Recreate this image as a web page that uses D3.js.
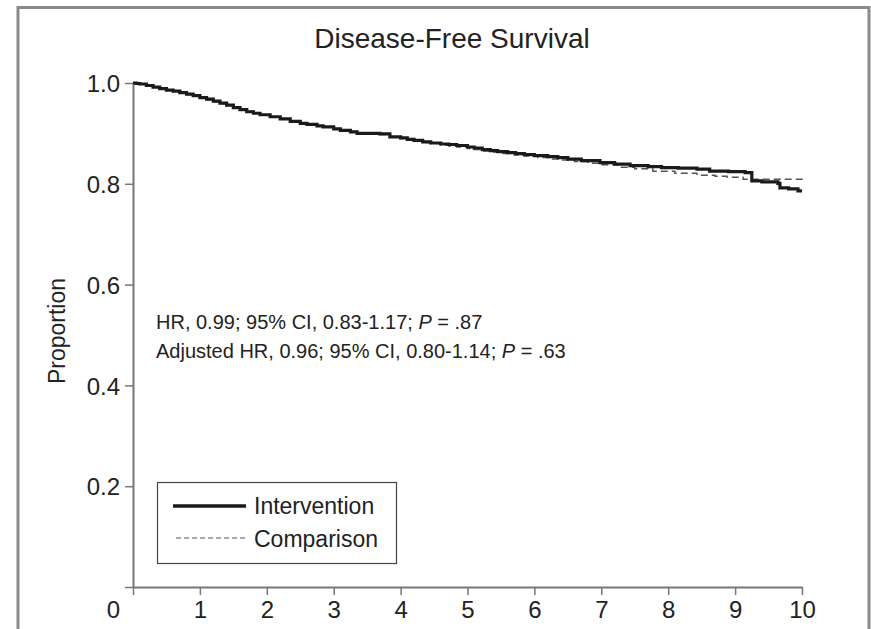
<!DOCTYPE html>
<html><head><meta charset="utf-8">
<script src="https://cdn.jsdelivr.net/npm/d3@7"></script>
<style>
body{margin:0;background:#fff;}
text{font-family:"Liberation Sans",Arial,sans-serif;fill:#222;}
</style></head>
<body>
<svg id="c" width="871" height="629"></svg>
<script>
const title = "Disease-Free Survival";
const yLabel = "Proportion";
const xTicks = [0,1,2,3,4,5,6,7,8,9,10];
const yTicks = [0,0.2,0.4,0.6,0.8,1.0];
const seriesNames = ["Intervention","Comparison"];
const interventionT = [0,0.05,0.1,0.2,0.3,0.4,0.5,0.6,0.7,0.8,0.9,1.0,1.1,1.2,1.3,1.4,1.5,1.6,1.7,1.8,1.9,2.05,2.2,2.35,2.5,2.6,2.75,2.84,3.0,3.1,3.25,3.35,3.69,3.84,4.0,4.1,4.2,4.33,4.45,4.6,4.72,4.84,5.0,5.1,5.22,5.34,5.45,5.6,5.72,5.85,6.0,6.2,6.35,6.5,6.7,6.98,7.2,7.43,7.7,7.9,8.15,8.43,8.62,8.9,9.15,9.25,9.4,9.64,9.67,9.8,9.94,10];
const interventionS = [1.0,0.999,0.998,0.995,0.992,0.989,0.986,0.984,0.981,0.978,0.975,0.971,0.968,0.964,0.960,0.956,0.951,0.947,0.943,0.940,0.937,0.933,0.929,0.924,0.920,0.918,0.915,0.913,0.909,0.906,0.903,0.900,0.899,0.893,0.891,0.888,0.886,0.883,0.881,0.879,0.878,0.876,0.873,0.871,0.868,0.866,0.864,0.862,0.860,0.858,0.856,0.854,0.852,0.849,0.846,0.842,0.839,0.836,0.834,0.832,0.831,0.829,0.825,0.824,0.822,0.806,0.804,0.801,0.792,0.790,0.786,0.786];
const comparisonT = [0,0.1,0.2,0.3,0.4,0.5,0.6,0.7,0.8,0.9,1.0,1.1,1.2,1.3,1.4,1.5,1.6,1.7,1.8,1.9,2.05,2.2,2.35,2.5,2.6,2.75,2.84,3.0,3.1,3.25,3.35,3.69,3.84,4.0,4.1,4.2,4.33,4.45,4.6,4.72,4.84,5.0,5.1,5.22,5.34,5.5,5.7,5.85,6.05,6.23,6.4,6.6,6.8,7.0,7.3,7.5,7.77,8.1,8.43,8.7,8.88,9.12,10,10];
const comparisonS = [1.0,0.998,0.995,0.992,0.989,0.986,0.983,0.980,0.977,0.974,0.970,0.967,0.963,0.959,0.955,0.952,0.948,0.944,0.940,0.937,0.932,0.928,0.924,0.920,0.918,0.915,0.912,0.909,0.906,0.903,0.901,0.898,0.893,0.890,0.887,0.885,0.882,0.880,0.877,0.875,0.873,0.870,0.868,0.865,0.863,0.860,0.857,0.855,0.852,0.849,0.847,0.844,0.841,0.838,0.833,0.830,0.825,0.821,0.817,0.815,0.813,0.809,0.809,0.800];
const annotation1 = ["HR, 0.99; 95% CI, 0.83-1.17; ", "P", " = .87"];
const annotation2 = ["Adjusted HR, 0.96; 95% CI, 0.80-1.14; ", "P", " = .63"];

const svg = d3.select("#c");
// outer frame
svg.append("rect").attr("x",18).attr("y",7.5).attr("width",851).attr("height",700)
  .attr("fill","none").attr("stroke","#8a8a8a").attr("stroke-width",3);

const x = d3.scaleLinear().domain([0,10]).range([133,802]);
const y = d3.scaleLinear().domain([0,1]).range([587,83]);

const tfs = 24;
const yAxis = d3.axisLeft(y).tickValues(yTicks).tickSize(8).tickSizeOuter(0).tickPadding(5)
  .tickFormat(d => d === 0 ? "" : d3.format(".1f")(d));
const gy = svg.append("g").attr("transform",`translate(${x(0)},0)`).call(yAxis);
const xAxis = d3.axisBottom(x).tickValues(xTicks).tickSize(8).tickSizeOuter(0).tickPadding(6)
  .tickFormat(d3.format("d"));
const gx = svg.append("g").attr("transform",`translate(0,${y(0)})`).call(xAxis);
[gx,gy].forEach(g=>{
  g.select(".domain").attr("stroke","#777").attr("stroke-width",2);
  g.selectAll(".tick line").attr("stroke","#777").attr("stroke-width",1.5);
  g.selectAll("text").attr("font-size",tfs).attr("font-family","Liberation Sans, Arial, sans-serif").attr("fill","#222");
});
gx.selectAll(".tick").filter(d=>d===0).select("text").attr("dx",-20);
gy.selectAll(".tick text").attr("dy","0.36em");

svg.append("text").attr("x",452).attr("y",48).attr("text-anchor","middle").attr("font-size",28).text(title);
svg.append("text").attr("transform","translate(65,331) rotate(-90)").attr("text-anchor","middle").attr("font-size",23).text(yLabel);

const line = d3.line().x(d=>x(d[0])).y(d=>y(d[1])).curve(d3.curveStepAfter);
const comp = comparisonT.map((t,i)=>[t,comparisonS[i]]);
const intv = interventionT.map((t,i)=>[t,interventionS[i]]);
svg.append("path").datum(comp).attr("d",line).attr("fill","none").attr("stroke","#555").attr("stroke-width",1.5).attr("stroke-dasharray","7,4");
svg.append("path").datum(intv).attr("d",line).attr("fill","none").attr("stroke","#1a1a1a").attr("stroke-width",3.2);

function ann(parts, yy){
  const t = svg.append("text").attr("x",156).attr("y",yy).attr("font-size",20);
  t.append("tspan").text(parts[0]);
  t.append("tspan").attr("font-style","italic").text(parts[1]);
  t.append("tspan").text(parts[2]);
}
ann(annotation1, 329);
ann(annotation2, 358);

// legend
const lg = svg.append("g");
lg.append("rect").attr("x",157.5).attr("y",482.5).attr("width",239).attr("height",81).attr("fill","#fff").attr("stroke","#444").attr("stroke-width",1.2);
lg.append("line").attr("x1",173).attr("x2",246).attr("y1",506).attr("y2",506).attr("stroke","#1a1a1a").attr("stroke-width",3.5);
lg.append("line").attr("x1",176).attr("x2",246).attr("y1",538).attr("y2",538).attr("stroke","#555").attr("stroke-width",1.2).attr("stroke-dasharray","5,3");
lg.append("text").attr("x",254).attr("y",514).attr("font-size",23).text(seriesNames[0]);
lg.append("text").attr("x",254).attr("y",547).attr("font-size",23).text(seriesNames[1]);
</script>
</body></html>
